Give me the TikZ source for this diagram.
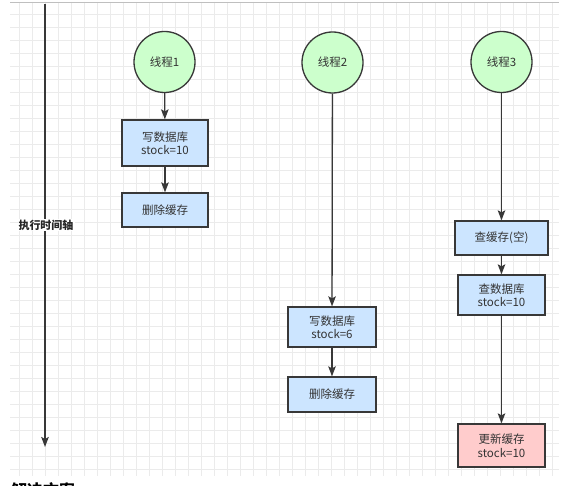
\documentclass[tikz,border=0pt]{standalone}
\usepackage{fontspec}
\setmainfont{Noto Sans CJK SC}
\usetikzlibrary{arrows.meta}
\definecolor{linec}{HTML}{383838}
\definecolor{textc}{HTML}{333333}
\definecolor{gridc}{HTML}{EBEBEB}
\definecolor{greenc}{HTML}{CCFFCC}
\definecolor{bluec}{HTML}{CCE5FF}
\definecolor{pinkc}{HTML}{FFCCCC}
\tikzset{
  thread/.style={circle, draw=linec, line width=1.3pt, fill=greenc, minimum size=61pt, inner sep=0pt, text=textc, font=\fontsize{11.5}{13.5}\selectfont},
  stepbox/.style={rectangle, draw=linec, line width=1.3pt, fill=bluec, inner sep=0pt, align=center, text=textc, font=\fontsize{11.5}{13.5}\selectfont},
  flow/.style={draw=linec, line width=1.3pt, -{Stealth[length=10pt,width=7.5pt,inset=2pt]}},
  gridline/.style={draw=gridc, line width=0.8pt}
}
\begin{document}
\begin{tikzpicture}[x=1pt,y=-1pt]
\useasboundingbox (0,0) rectangle (568,486);
\fill[white] (0,0) rectangle (568,486);
\begin{scope}
\clip (10,2) rectangle (559,476);
\foreach \i in {1,...,42} \draw[gridline] ({6+13*\i},2) -- ({6+13*\i},476);
\foreach \j in {1,...,36} \draw[gridline] (10,{1.5+13*\j}) -- (559,{1.5+13*\j});
\end{scope}
\draw[draw=black!25, line width=0.8pt] (10,2) -- (559,2);

% time axis
\coordinate (axtop) at (45,4);
\coordinate (axbot) at (45,447);
\draw[flow, line width=1.6pt] (axtop) -- (axbot);
\node[fill=white, inner sep=1pt, font=\bfseries\fontsize{11}{13}\selectfont, text=black!85] (axlabel) at (46,225) {执行时间轴};

% thread 1
\node[thread] (t1) at (164.5,62) {线程1};
\node[stepbox, minimum width=86pt, minimum height=46pt] (w1) at (165,143) {写数据库\\stock=10};
\node[stepbox, minimum width=86pt, minimum height=34pt] (d1) at (165,210) {删除缓存};
\draw[flow] (t1) -- (w1);
\draw[flow] (w1) -- (d1);

% thread 2
\node[thread] (t2) at (332.5,62.5) {线程2};
\node[stepbox, minimum width=88pt, minimum height=40pt] (w2) at (332,327) {写数据库\\stock=6};
\node[stepbox, minimum width=88pt, minimum height=35pt] (d2) at (332,394.5) {删除缓存};
\draw[flow] (t2) -- (w2);
\draw[flow] (w2) -- (d2);

% thread 3
\node[thread] (t3) at (501.5,62) {线程3};
\node[stepbox, minimum width=93pt, minimum height=34pt] (q3) at (501.5,238) {查缓存(空)};
\node[stepbox, minimum width=87pt, minimum height=40pt] (r3) at (501.5,295) {查数据库\\stock=10};
\node[stepbox, fill=pinkc, minimum width=87pt, minimum height=43pt] (u3) at (501.5,445.5) {更新缓存\\stock=10};
\draw[flow] (t3) -- (q3);
\draw[flow] (q3) -- (r3);
\draw[flow] (r3) -- (u3);

% cut-off heading at the bottom (only its top shows in the reference)
\begin{scope}
\clip (0,0) rectangle (568,486);
\node[anchor=north west, inner sep=0pt, font=\bfseries\fontsize{16}{18}\selectfont, text=black] (heading) at (11,482) {解决方案};
\end{scope}
\end{tikzpicture}
\end{document}
